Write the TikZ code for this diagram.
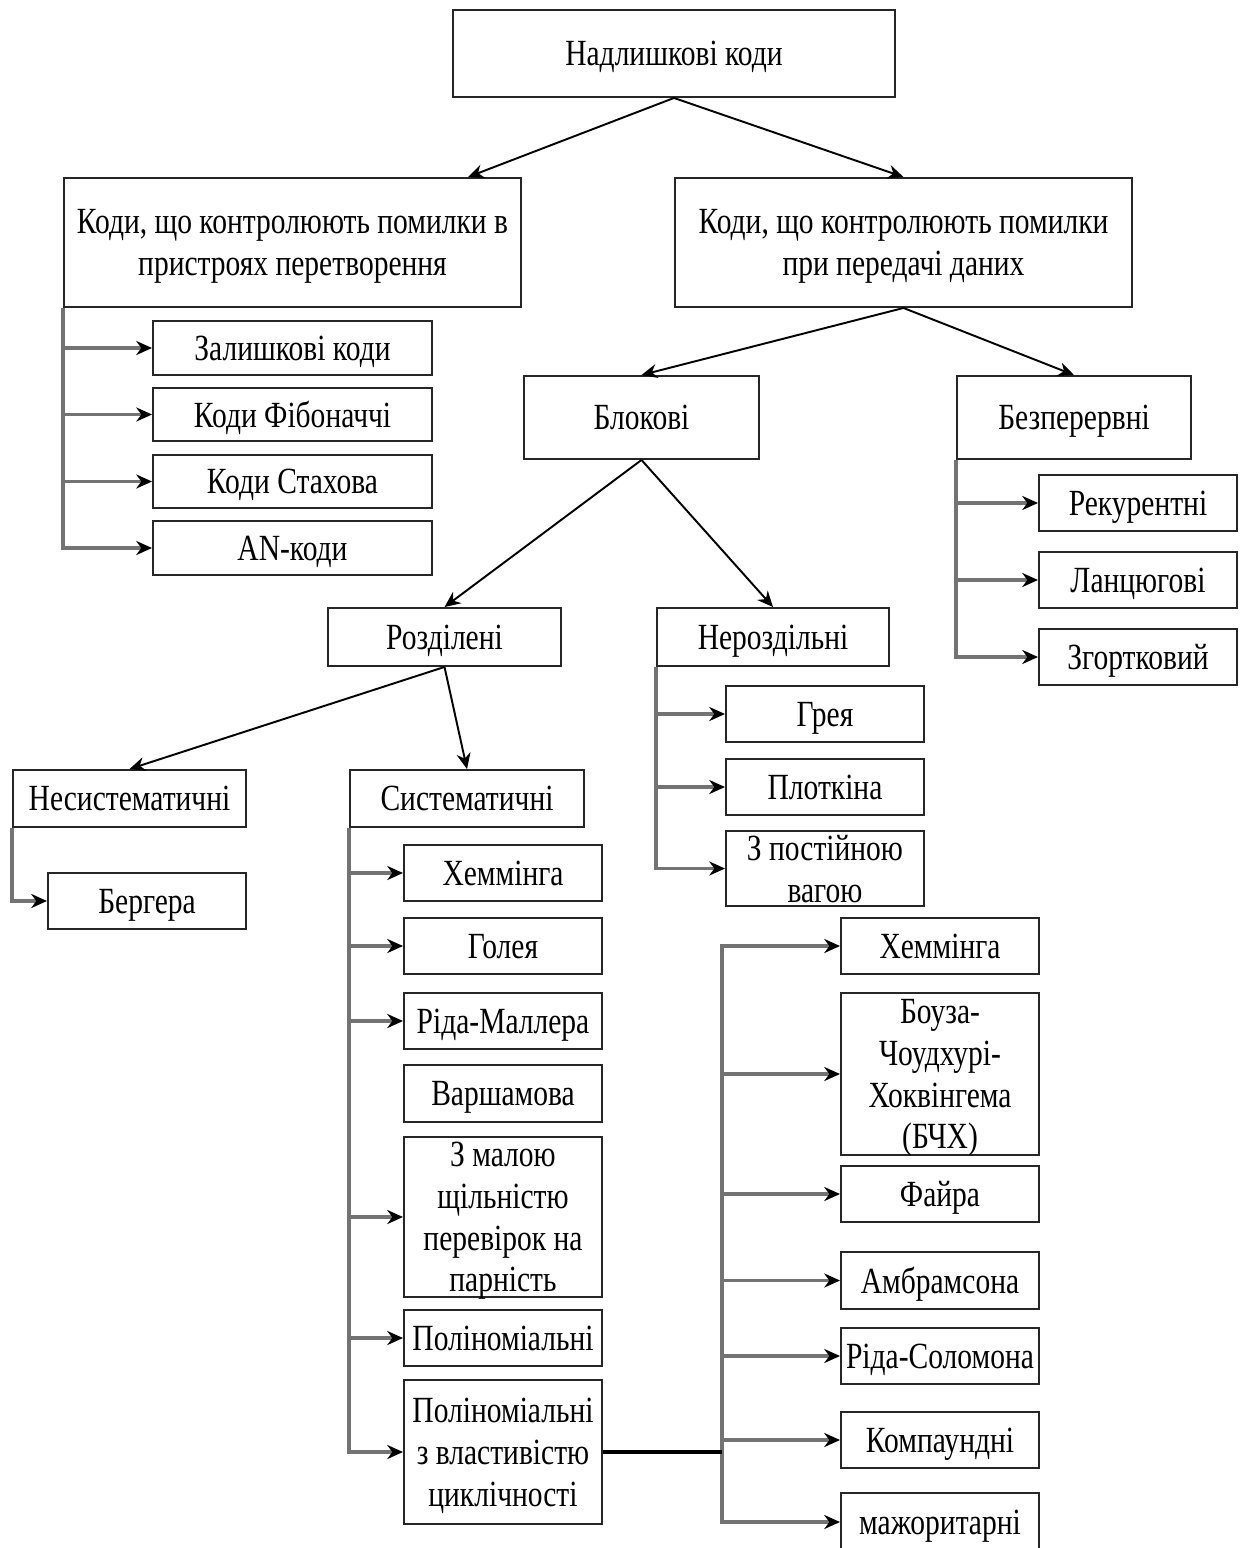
\documentclass[tikz,border=0pt]{standalone}
\usepackage{fontspec}
\setmainfont{Liberation Serif}[FakeStretch=0.8]
\usetikzlibrary{arrows.meta,calc}

\begin{document}
\begin{tikzpicture}[x=0.02cm, y=-0.02cm,
    font=\fontsize{21pt}{23.8pt}\selectfont,
    box/.style 2 args={draw=black!85, line width=1.1pt, align=center, inner sep=0pt, text depth=0pt,
        minimum width=#1*0.02cm, minimum height=#2*0.02cm},
    tree/.style={line width=1.1pt, -{Stealth[length=9pt,width=8pt]}},
    list/.style={black!55, line width=1.8pt, -{Stealth[length=9pt,width=8pt,black]}}]
    \useasboundingbox (0,0) rectangle (1246,1548);

    % Top levels
    \node[box={442}{87}] (top) at (674,53.5) {Надлишкові коди};
    \node[box={457}{129}] (lft) at (292.5,242.5) {Коди, що контролюють помилки в\\пристроях перетворення};
    \node[box={457}{129}] (rgt) at (903.5,242.5) {Коди, що контролюють помилки\\при передачі даних};
    \node[box={235}{83}] (blk) at (641.5,417.5) {Блокові};
    \node[box={234}{83}] (bzp) at (1074,417.5) {Безперервні};
    \node[box={233}{58}] (rzd) at (444.5,637) {Розділені};
    \node[box={232}{58}] (nrz) at (773,637) {Нероздільні};
    \node[box={233}{57}] (nsys) at (129.5,798.5) {Несистематичні};
    \node[box={234}{57}] (sys) at (467,798.5) {Систематичні};

    % Conversion codes
    \node[box={279}{54}] (zal) at (292.5,348) {Залишкові коди};
    \node[box={279}{53}] (fib) at (292.5,414.5) {Коди Фібоначчі};
    \node[box={279}{53}] (sta) at (292.5,481.5) {Коди Стахова};
    \node[box={279}{54}] (anc) at (292.5,548) {AN-коди};

    % Continuous codes
    \node[box={198}{56}] (rec) at (1138,503) {Рекурентні};
    \node[box={198}{56}] (lan) at (1138,580) {Ланцюгові};
    \node[box={198}{56}] (zgo) at (1138,657) {Згортковий};

    % Non-separable codes
    \node[box={198}{56}] (gre) at (825,714) {Грея};
    \node[box={198}{56}] (plo) at (825,787) {Плоткіна};
    \node[box={198}{75}] (pst) at (825,868.5) {З постійною\\вагою};

    % Non-systematic and systematic codes
    \node[box={198}{56}] (ber) at (147,901) {Бергера};
    \node[box={198}{56}] (ham) at (503,873) {Хеммінга};
    \node[box={198}{56}] (gol) at (503,946) {Голея};
    \node[box={198}{56}] (rml) at (503,1021) {Ріда-Маллера};
    \node[box={198}{57}] (var) at (503,1093.5) {Варшамова};
    \node[box={198}{160}] (mal) at (503,1217) {З малою\\щільністю\\перевірок на\\парність};
    \node[box={198}{56}] (pol) at (503,1338) {Поліноміальні};
    \node[box={198}{144}] (cyc) at (503,1452) {Поліноміальні\\з властивістю\\циклічності};

    % Cyclic codes
    \node[box={198}{56}] (hm2) at (940,946) {Хеммінга};
    \node[box={198}{162}] (bch) at (940,1074) {Боуза-\\Чоудхурі-\\Хоквінгема\\(БЧХ)};
    \node[box={198}{56}] (fai) at (940,1194) {Файра};
    \node[box={198}{57}] (amb) at (940,1280.5) {Амбрамсона};
    \node[box={198}{56}] (rso) at (940,1356) {Ріда-Соломона};
    \node[box={198}{56}] (kom) at (940,1440) {Компаундні};
    \node[box={198}{58}] (maj) at (940,1522) {мажоритарні};

    % Drawing the tree arrows
    \draw[tree] (top.south) -- ($(lft.north)+(175.5,0)$);
    \draw[tree] (top.south) -- (rgt.north);
    \draw[tree] (rgt.south) -- (blk.north);
    \draw[tree] (rgt.south) -- (bzp.north);
    \draw[tree] (blk.south) -- (rzd.north);
    \draw[tree] (blk.south) -- (nrz.north);
    \draw[tree] (rzd.south) -- (nsys.north);
    \draw[tree] (rzd.south) -- (sys.north);

    % Drawing the side lists
    \foreach \n in {zal,fib,sta,anc} \draw[list] (lft.south west) |- (\n.west);
    \foreach \n in {rec,lan,zgo} \draw[list] (bzp.south west) |- (\n.west);
    \foreach \n in {gre,plo,pst} \draw[list] (nrz.south west) |- (\n.west);
    \draw[list] (nsys.south west) |- (ber.west);
    \foreach \n in {ham,gol,rml,mal,pol,cyc} \draw[list] (sys.south west) |- (\n.west);

    \coordinate (jn) at (722,1452);
    \foreach \n in {hm2,bch,fai,amb,rso,kom,maj} \draw[list] (jn) |- (\n.west);
    \draw[line width=2.2pt] (cyc.east) -- (jn);
\end{tikzpicture}
\end{document}
